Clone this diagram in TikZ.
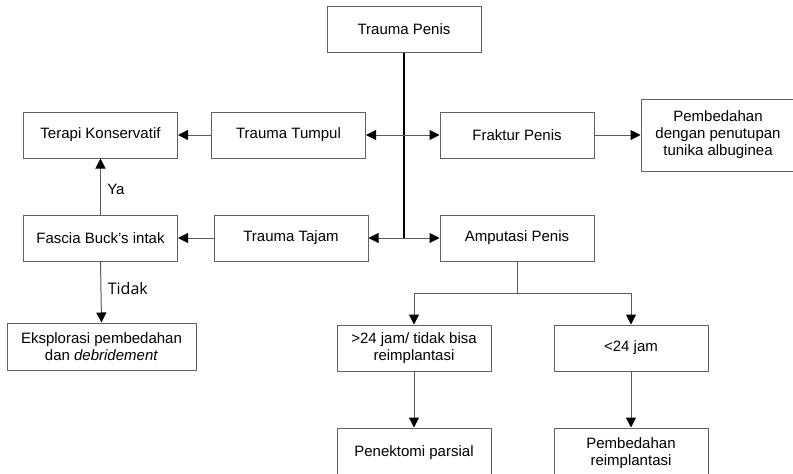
\documentclass[tikz,border=0pt]{standalone}
\usepackage{fontspec}
\setmainfont{Liberation Sans}
\newfontfamily\lblfont{Open Sans}
\usetikzlibrary{arrows.meta}
\begin{document}
\begin{tikzpicture}[x=1pt,y=-1pt,
  box/.style={draw=black!62,line width=1pt,fill=white,minimum width=154pt,minimum height=46pt,
    align=center,inner sep=2pt,font=\fontsize{15}{17}\selectfont,text=black},
  conn/.style={draw=black!65,line width=1pt,-{Triangle[length=10pt,width=10pt,color=black]}},
  plain/.style={draw=black!65,line width=1pt},
  trunk/.style={draw=black,line width=1.6pt},
  lbl/.style={font=\fontsize{15}{17}\selectfont,text=black},
  lblb/.style={font=\lblfont\fontsize{16}{18}\selectfont,text=black}]
\useasboundingbox (0,0) rectangle (793,474);
\clip (0,0) rectangle (793,474);
\node[box] (penis) at (404,29) {Trauma Penis};
\node[box] (tumpul) at (288.5,135) {Trauma Tumpul};
\node[box] (terapi) at (100.5,135) {Terapi Konservatif};
\node[box] (fraktur) at (517,135) {Fraktur Penis};
\node[box,minimum width=154pt,minimum height=72pt] (pemb) at (718,135) {Pembedahan\\dengan penutupan\\tunika albuginea};
\node[box] (fascia) at (100.5,238) {Fascia Buck's intak};
\node[box] (tajam) at (291,238) {Trauma Tajam};
\node[box] (amputasi) at (517,238) {Amputasi Penis};
\node[box,minimum width=189pt,minimum height=47pt] (ekspl) at (101.5,346.5) {Eksplorasi pembedahan\\dan \textit{debridement}};
\node[box] (gt) at (414,348) {>24 jam/ tidak bisa\\reimplantasi};
\node[box] (lt) at (631,348) {<24 jam};
\node[box,minimum height=50pt] (penek) at (414,453) {Penektomi parsial};
\node[box,minimum height=50pt] (reimpl) at (631,453) {Pembedahan\\reimplantasi};
% trunk
\coordinate (j1) at (penis.south |- tumpul.east);
\coordinate (j2) at (penis.south |- tajam.east);
\draw[trunk] (penis.south) -- (j2);
\draw[conn] (j1) -- (tumpul.east);
\draw[conn] (j1) -- (fraktur.west);
\draw[conn] (j2) -- (tajam.east);
\draw[conn] (j2) -- (amputasi.west);
\draw[conn] (tumpul.west) -- (terapi.east);
\draw[conn] (tajam.west) -- (fascia.east);
\draw[conn] (fraktur.east) -- (pemb.west);
\draw[conn] (fascia.north) -- node[lbl,right,xshift=3pt,yshift=-3pt] {Ya} (terapi.south);
\draw[conn] (fascia.south) -- node[lblb,right,xshift=3pt,yshift=4pt] {Tidak} (ekspl.north);
\coordinate (split) at (517,293);
\draw[plain] (amputasi.south) -- (split);
\draw[conn] (split) -| (gt.north);
\draw[conn] (split) -| (lt.north);
\draw[conn] (gt.south) -- (penek.north);
\draw[conn] (lt.south) -- (reimpl.north);
\end{tikzpicture}
\end{document}
